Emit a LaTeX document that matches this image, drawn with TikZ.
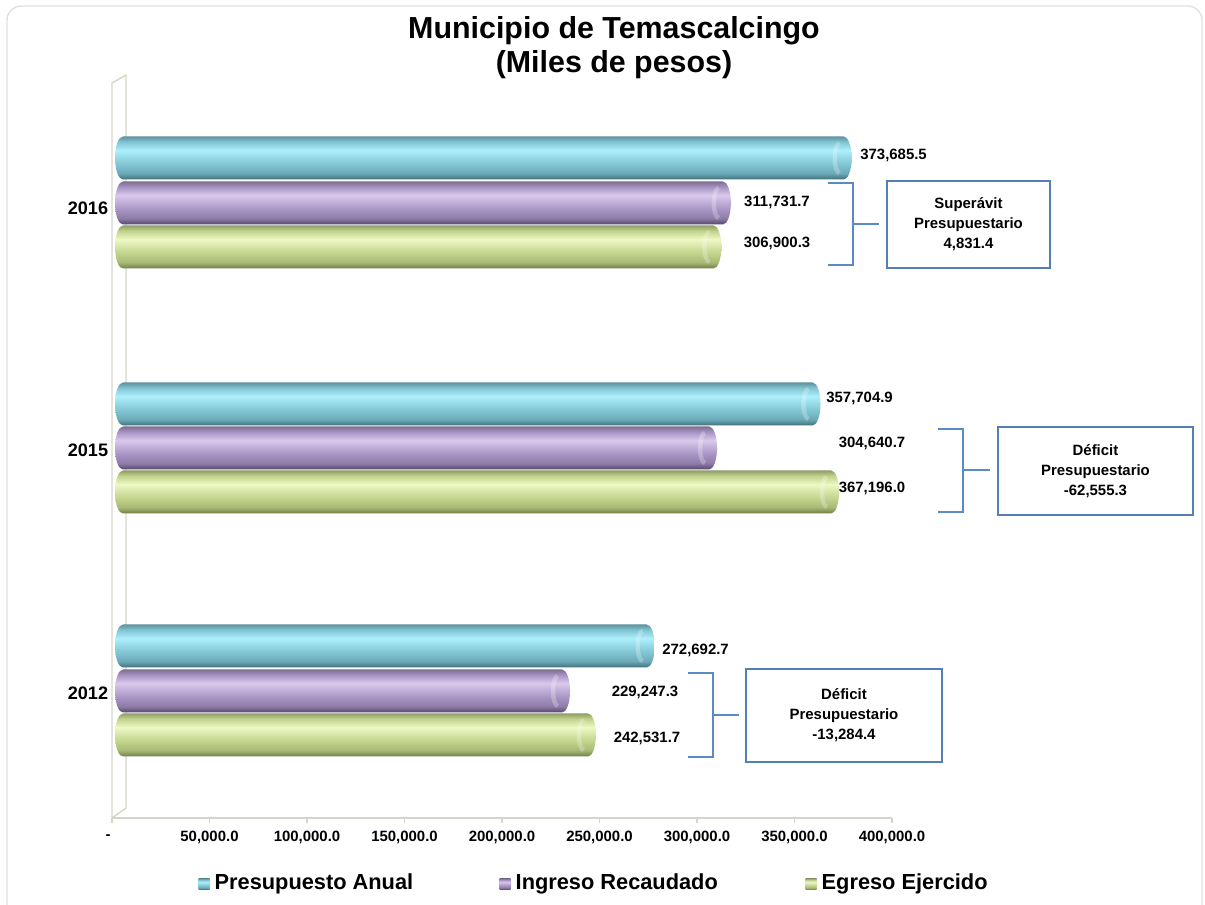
\documentclass[tikz,border=0pt]{standalone}
\usepackage{fontspec}
\setmainfont{Liberation Sans}
\usetikzlibrary{positioning}

\definecolor{cyanL}{HTML}{AEEFFB}
\definecolor{cyanM}{HTML}{7FC3D2}
\definecolor{cyanD}{HTML}{3F6E79}
\definecolor{lilaL}{HTML}{DAC8EC}
\definecolor{lilaM}{HTML}{A692C2}
\definecolor{lilaD}{HTML}{54466A}
\definecolor{oliveL}{HTML}{EDF8C4}
\definecolor{oliveM}{HTML}{BFD28A}
\definecolor{oliveD}{HTML}{6E7D45}
\definecolor{wallgray}{HTML}{D6D6C8}
\definecolor{brkblue}{HTML}{5A8BC9}
\definecolor{boxblue}{HTML}{527FB5}

\pgfdeclareverticalshading{presup}{100bp}{color(0bp)=(cyanD); color(25bp)=(cyanD); color(32bp)=(cyanM!70!cyanD); color(42bp)=(cyanM); color(59bp)=(cyanL); color(69bp)=(cyanM); color(75bp)=(cyanM!75!black); color(100bp)=(cyanM!75!black)}
\pgfdeclareverticalshading{ingreso}{100bp}{color(0bp)=(lilaD); color(25bp)=(lilaD); color(32bp)=(lilaM!70!lilaD); color(42bp)=(lilaM); color(59bp)=(lilaL); color(69bp)=(lilaM); color(75bp)=(lilaM!75!black); color(100bp)=(lilaM!75!black)}
\pgfdeclareverticalshading{egreso}{100bp}{color(0bp)=(oliveD); color(25bp)=(oliveD); color(32bp)=(oliveM!70!oliveD); color(42bp)=(oliveM); color(59bp)=(oliveL); color(69bp)=(oliveM); color(75bp)=(oliveM!75!black); color(100bp)=(oliveM!75!black)}

% bar: center y, value (thousands), shading
\newcommand{\cylbar}[3]{%
	\shade[shading=#3] (123,#1-21.5) -- ({115+1.95*#2},#1-21.5) arc[start angle=90, end angle=-90, x radius=0.16cm, y radius=0.43cm] -- (123,#1+21.5) arc[start angle=270, end angle=90, x radius=0.16cm, y radius=0.43cm] -- cycle;
	\draw[white, opacity=0.25, line width=2.5pt] ({115+1.95*#2-4},#1-15) arc[start angle=90, end angle=270, x radius=0.1cm, y radius=0.3cm];
}

\begin{document}
\begin{tikzpicture}[x=0.02cm, y=-0.02cm]
			\tikzstyle{val} = [font=\fontsize{8.5}{10}\selectfont\bfseries, inner sep=0pt]
			\tikzstyle{ticklbl} = [font=\fontsize{8.5}{10}\selectfont\bfseries, inner sep=0pt]
			\tikzstyle{yr} = [font=\fontsize{10.3}{12}\selectfont\bfseries, inner sep=0pt]
			\tikzstyle{saldo} = [draw=boxblue, line width=1pt, fill=white, align=center, font=\fontsize{8.5}{11.4}\selectfont\bfseries]
			\tikzstyle{brk} = [draw=brkblue, line width=1.5pt]
			\tikzstyle{legmark} = [rectangle, shade, minimum size=0.22cm, inner sep=0pt]
			\tikzstyle{leg} = [font=\fontsize{12.4}{14}\selectfont\bfseries, inner sep=0pt]

			\useasboundingbox (0,0) rectangle (1205,905);
			\draw[black!12, line width=0.8pt, rounded corners=8pt] (7,6) rectangle (1202,940);

			% title
			\node[font=\fontsize{17.3}{20}\selectfont\bfseries] (title) at (614,31) {Municipio de Temascalcingo};
			\node[font=\fontsize{17.3}{20}\selectfont\bfseries] (subtitle) at (614,65) {(Miles de pesos)};

			% back wall and value axis
			\draw[wallgray, line width=0.8pt] (112,83) -- (126,75) -- (126,808) -- (112,818) -- cycle;
			\draw[wallgray, line width=0.8pt] (112,818) -- (892,818);
			\foreach \k in {0,...,8}
				\draw[wallgray, line width=0.8pt] (112+97.5*\k,818) -- ++(0,5);
			\node[ticklbl] (t0) at (108,837) {-};
			\foreach \k/\t in {1/{50,000.0}, 2/{100,000.0}, 3/{150,000.0}, 4/{200,000.0}, 5/{250,000.0}, 6/{300,000.0}, 7/{350,000.0}, 8/{400,000.0}}
				\node[ticklbl] (t\k) at (112+97.5*\k,837) {\t};

			% bars
			\cylbar{158}{373.6855}{presup}
			\cylbar{203}{311.7317}{ingreso}
			\cylbar{247}{306.9003}{egreso}
			\cylbar{404}{357.7049}{presup}
			\cylbar{448}{304.6407}{ingreso}
			\cylbar{492}{367.1960}{egreso}
			\cylbar{646}{272.6927}{presup}
			\cylbar{691}{229.2473}{ingreso}
			\cylbar{735}{242.5317}{egreso}

			% years
			\node[yr] (y16) at (88,208) {2016};
			\node[yr] (y15) at (88,450) {2015};
			\node[yr] (y12) at (88,693) {2012};

			% values
			\node[val, anchor=west] (v16a) at (860,155) {373,685.5};
			\node[val] (v16b) at (777,202) {311,731.7};
			\node[val] (v16c) at (777,243) {306,900.3};
			\node[val, anchor=west] (v15a) at (826,398) {357,704.9};
			\node[val] (v15b) at (872,443) {304,640.7};
			\node[val] (v15c) at (872,488) {367,196.0};
			\node[val, anchor=west] (v12a) at (662,650) {272,692.7};
			\node[val] (v12b) at (645,692) {229,247.3};
			\node[val] (v12c) at (647,738) {242,531.7};

			% balance boxes
			\node[saldo, minimum width=3.26cm, minimum height=1.74cm] (s16) at (968.5,224.5) {Superávit\\Presupuestario\\4,831.4};
			\node[saldo, minimum width=3.9cm, minimum height=1.76cm] (s15) at (1095.5,471) {Déficit\\Presupuestario\\-62,555.3};
			\node[saldo, minimum width=3.92cm, minimum height=1.86cm] (s12) at (844,715.5) {Déficit\\Presupuestario\\-13,284.4};

			% brackets
			\coordinate (b16t) at (828,183);
			\coordinate (b16m) at (853,224);
			\coordinate (b16b) at (828,265);
			\draw[brk] (b16t) -| (b16m) |- (b16b);
			\draw[brk, shorten >=0.14cm] (b16m) -- (b16m -| s16.west);

			\coordinate (b15t) at (938,429);
			\coordinate (b15m) at (963,470);
			\coordinate (b15b) at (938,512);
			\draw[brk] (b15t) -| (b15m) |- (b15b);
			\draw[brk, shorten >=0.14cm] (b15m) -- (b15m -| s15.west);

			\coordinate (b12t) at (688,673);
			\coordinate (b12m) at (713,715);
			\coordinate (b12b) at (688,757);
			\draw[brk] (b12t) -| (b12m) |- (b12b);
			\draw[brk, shorten >=0.12cm] (b12m) -- (b12m -| s12.west);

			% legend
			\node[legmark, shading=presup] (m1) at (204,884) {};
			\node[leg] (l1) [right=0.09cm of m1] {Presupuesto Anual};
			\node[legmark, shading=ingreso] (m2) at (505,884) {};
			\node[leg] (l2) [right=0.09cm of m2] {Ingreso Recaudado};
			\node[legmark, shading=egreso] (m3) at (811,884) {};
			\node[leg] (l3) [right=0.09cm of m3] {Egreso Ejercido};
	\end{tikzpicture}
\end{document}
